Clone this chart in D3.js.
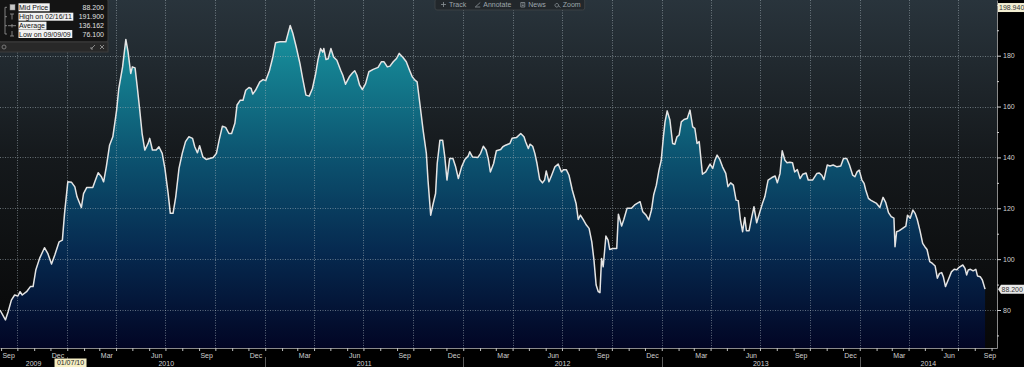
<!DOCTYPE html>
<html>
<head>
<meta charset="utf-8">
<script src="https://cdn.jsdelivr.net/npm/d3@7"></script>
<style>
body { margin: 0; background: #000; }
svg { display: block; font-family: "Liberation Sans", Arial, sans-serif; }
</style>
</head>
<body>
<svg id="chart" width="1024" height="367"></svg>
<script>
// mid price (dates and values)
var priceDates = [
    "2009-08-30","2009-09-09","2009-09-14","2009-09-20","2009-09-26","2009-10-02","2009-10-06","2009-10-10","2009-10-18","2009-10-25",
    "2009-10-30","2009-11-04","2009-11-11","2009-11-20","2009-11-26","2009-12-03","2009-12-09","2009-12-17","2009-12-23","2009-12-27",
    "2010-01-02","2010-01-09","2010-01-15","2010-01-19","2010-01-27","2010-01-31","2010-02-06","2010-02-17","2010-02-22","2010-02-27",
    "2010-03-05","2010-03-09","2010-03-14","2010-03-20","2010-03-26","2010-04-02","2010-04-06","2010-04-13","2010-04-19","2010-04-23",
    "2010-04-28","2010-05-01","2010-05-06","2010-05-10","2010-05-14","2010-05-19","2010-05-24","2010-05-30","2010-06-02","2010-06-07",
    "2010-06-14","2010-06-19","2010-06-25","2010-06-30","2010-07-06","2010-07-10","2010-07-15","2010-07-20","2010-07-26","2010-08-01",
    "2010-08-07","2010-08-13","2010-08-20","2010-08-24","2010-08-29","2010-09-02","2010-09-08","2010-09-14","2010-09-27","2010-10-03",
    "2010-10-08","2010-10-14","2010-10-20","2010-10-26","2010-10-31","2010-11-06","2010-11-10","2010-11-16","2010-11-21","2010-11-26",
    "2010-12-02","2010-12-06","2010-12-09","2010-12-14","2010-12-22","2010-12-28",
    "2011-01-02","2011-01-09","2011-01-15","2011-01-20","2011-01-28","2011-02-08","2011-02-12","2011-02-16","2011-02-21","2011-02-27",
    "2011-03-06","2011-03-11","2011-03-17","2011-03-23","2011-03-29","2011-04-04","2011-04-08","2011-04-13","2011-04-17","2011-04-19",
    "2011-04-23","2011-04-27","2011-05-02","2011-05-07","2011-05-13","2011-05-20","2011-05-24","2011-05-29","2011-06-05","2011-06-11",
    "2011-06-15","2011-06-19","2011-06-24","2011-06-29","2011-07-05","2011-07-11","2011-07-19","2011-07-28","2011-08-03","2011-08-08",
    "2011-08-14","2011-08-19","2011-08-25","2011-08-31","2011-09-05","2011-09-12","2011-09-18","2011-09-24","2011-09-29","2011-10-04",
    "2011-10-08","2011-10-13","2011-10-19","2011-10-25","2011-10-28","2011-11-02","2011-11-06","2011-11-11","2011-11-14","2011-11-19",
    "2011-11-24","2011-11-28","2011-12-02","2011-12-07","2011-12-13","2011-12-18","2011-12-23","2011-12-29",
    "2012-01-04","2012-01-10","2012-01-13","2012-01-18","2012-01-28","2012-02-02","2012-02-07","2012-02-12","2012-02-16","2012-02-20",
    "2012-02-26","2012-03-02","2012-03-10","2012-03-14","2012-03-19","2012-03-27","2012-03-31","2012-04-08","2012-04-16","2012-04-22",
    "2012-04-25","2012-04-30","2012-05-03","2012-05-08","2012-05-12","2012-05-16","2012-05-21","2012-05-26","2012-05-30","2012-06-02",
    "2012-06-07","2012-06-12","2012-06-18","2012-06-24","2012-06-30","2012-07-04","2012-07-09","2012-07-14","2012-07-20","2012-07-27",
    "2012-07-31","2012-08-04","2012-08-09","2012-08-15","2012-08-20","2012-08-25","2012-08-29","2012-09-02","2012-09-06","2012-09-09",
    "2012-09-12","2012-09-15","2012-09-20","2012-09-24","2012-09-27","2012-10-03","2012-10-10","2012-10-13","2012-10-16","2012-10-19",
    "2012-10-23","2012-10-29","2012-11-06","2012-11-12","2012-11-22","2012-11-27","2012-12-03","2012-12-08","2012-12-13","2012-12-17",
    "2012-12-22","2012-12-27","2012-12-31",
    "2013-01-04","2013-01-07","2013-01-11","2013-01-16","2013-01-21","2013-01-25","2013-01-29","2013-02-02","2013-02-06","2013-02-11",
    "2013-02-17","2013-02-22","2013-02-27","2013-03-03","2013-03-07","2013-03-11","2013-03-17","2013-03-23","2013-03-31","2013-04-05",
    "2013-04-09","2013-04-13","2013-04-18","2013-04-23","2013-04-29","2013-05-03","2013-05-08","2013-05-13","2013-05-18","2013-05-22",
    "2013-05-26","2013-05-30","2013-06-03","2013-06-06","2013-06-11","2013-06-16","2013-06-20","2013-06-25","2013-06-30","2013-07-06",
    "2013-07-10","2013-07-16","2013-07-23","2013-07-29","2013-08-02","2013-08-07","2013-08-11","2013-08-16","2013-08-20","2013-08-25",
    "2013-08-30","2013-09-03","2013-09-08","2013-09-13","2013-09-18","2013-09-24","2013-09-28","2013-10-06","2013-10-14","2013-10-18",
    "2013-10-23","2013-10-27","2013-11-02","2013-11-07","2013-11-13","2013-11-20","2013-11-27","2013-12-02","2013-12-08","2013-12-13",
    "2013-12-19","2013-12-23","2013-12-27","2013-12-31",
    "2014-01-05","2014-01-09","2014-01-12","2014-01-17","2014-01-21","2014-01-26","2014-02-01","2014-02-07","2014-02-13","2014-02-18",
    "2014-02-23","2014-02-28","2014-03-05","2014-03-07","2014-03-10","2014-03-15","2014-03-21","2014-03-27","2014-03-30","2014-04-04",
    "2014-04-09","2014-04-13","2014-04-17","2014-04-22","2014-04-27","2014-05-01","2014-05-05","2014-05-10","2014-05-15","2014-05-20",
    "2014-05-24","2014-05-28","2014-06-01","2014-06-04","2014-06-08","2014-06-13","2014-06-19","2014-06-24","2014-06-29","2014-07-03",
    "2014-07-10","2014-07-14","2014-07-17","2014-07-20","2014-07-24","2014-07-29","2014-08-03","2014-08-06","2014-08-11","2014-08-15",
    "2014-08-20"
];
var midPrices = [
    80.0,76.1,79.3,83.9,85.9,85.5,87.2,85.9,87.2,89.2,
    89.2,95.7,100.3,104.5,102.3,98.1,101.6,106.8,107.5,118.0,
    130.4,130.2,128.4,124.5,120.3,125.8,128.2,128.2,131.1,134.0,
    132.4,130.4,136.3,144.8,148.1,158.6,167.1,175.6,186.4,181.6,
    173.0,175.6,175.2,167.8,159.9,149.4,142.9,145.5,147.5,142.9,
    142.9,144.2,141.6,135.7,125.8,118.0,118.0,124.5,135.7,141.6,
    146.2,148.1,147.5,144.2,141.8,144.6,140.2,139.2,140.0,141.6,
    146.8,152.3,151.8,149.4,149.4,153.4,160.6,162.5,162.5,166.4,
    167.5,167.1,164.9,166.4,169.7,170.6,
    170.2,174.3,179.5,185.1,185.5,185.5,188.7,191.9,188.7,183.5,
    176.9,171.0,164.5,164.1,167.1,173.0,178.2,182.8,181.4,182.8,
    178.5,178.8,182.8,179.5,178.2,174.3,172.3,168.8,171.7,173.3,
    174.1,172.3,168.4,166.7,169.0,173.7,174.6,175.4,177.6,177.6,
    175.6,175.9,177.6,178.9,180.9,179.3,177.6,174.3,171.7,170.4,
    169.7,161.2,150.7,141.6,131.1,117.3,121.3,125.8,137.6,146.8,
    146.8,140.2,131.1,139.6,139.6,136.3,131.7,136.3,
    139.2,140.5,142.2,140.2,140.0,141.6,144.4,142.9,139.6,134.3,
    137.6,142.6,143.1,144.2,144.8,145.5,147.5,147.8,149.4,148.1,
    146.2,143.5,145.2,144.4,141.6,137.6,131.3,130.0,131.1,134.7,
    130.4,133.0,136.3,137.4,134.3,135.2,135.2,133.0,127.2,121.9,
    115.6,117.3,115.6,113.4,112.1,106.8,99.6,89.8,87.2,86.8,
    100.3,97.0,109.1,107.5,103.8,104.2,104.2,117.7,115.4,113.0,
    115.6,120.0,120.0,121.3,122.6,118.6,117.3,115.4,119.3,125.2,
    129.1,135.2,138.9,
    148.1,154.0,158.3,154.7,145.5,145.2,148.1,148.8,154.0,154.9,
    155.3,158.6,152.0,151.4,145.5,146.2,133.4,134.3,137.4,135.7,
    138.9,140.9,139.2,136.3,133.7,128.5,130.0,129.1,123.2,123.0,
    115.4,110.8,116.4,111.2,111.2,116.7,120.6,114.3,118.0,122.2,
    124.5,131.1,132.1,132.7,130.0,133.7,142.6,138.9,137.9,138.1,
    137.9,134.3,135.2,131.7,133.4,133.9,131.1,131.1,133.7,133.9,
    133.0,131.3,137.0,136.6,137.0,136.3,136.6,139.6,139.6,137.0,
    133.0,132.4,134.3,135.0,
    131.1,129.8,127.2,123.9,123.2,122.6,121.9,120.3,124.3,122.2,
    118.3,116.7,116.1,104.9,110.8,111.2,112.1,113.0,117.3,116.1,
    119.3,118.0,115.6,111.2,106.2,104.9,103.8,99.0,98.3,97.3,
    92.5,94.4,94.7,93.1,89.2,91.8,95.0,96.0,95.8,96.8,
    97.7,96.4,93.8,95.7,96.0,95.4,96.0,93.4,93.1,91.8,
    88.2
];

// axis setup
var xDomain = ["2009-08-30", "2014-09-11"];
var yDomain = [65.06, 201.9];
var yMajorTicks = [80, 100, 120, 140, 160, 180, 200];
var yMinorTicks = [70, 90, 110, 130, 150, 170, 190];
var yGridTicks = [80, 100, 120, 140, 160, 180];
var labelMonths = [8, 11, 2, 5]; // Sep, Dec, Mar, Jun
var cursorDate = "2010-01-07";
var topValue = 198.940;

// legend / toolbar text
var legendLabels = ["Mid Price", "High on 02/16/11", "Average", "Low on 09/09/09"];
var legendValues = ["88.200", "191.900", "136.162", "76.100"];
var toolbarItems = ["Track", "Annotate", "News", "Zoom"];

var parse = d3.timeParse("%Y-%m-%d");
var series = priceDates.map(function(d, i) { return { date: parse(d), price: midPrices[i] }; });

var plotR = 997, plotB = 348;
var svg = d3.select("#chart");

var x = d3.scaleTime()
    .domain([parse(xDomain[0]), parse(xDomain[1])])
    .range([0, plotR]);
var y = d3.scaleLinear()
    .domain(yDomain)
    .range([plotB, 0]);

// gradients
var defs = svg.append("defs");
var bg = defs.append("linearGradient").attr("id", "bgGrad")
    .attr("x1", 0).attr("y1", 0).attr("x2", 0).attr("y2", 1);
bg.append("stop").attr("offset", "0%").attr("stop-color", "#29343c");
bg.append("stop").attr("offset", "45%").attr("stop-color", "#15191c");
bg.append("stop").attr("offset", "100%").attr("stop-color", "#070707");

var ag = defs.append("linearGradient").attr("id", "areaGrad")
    .attr("gradientUnits", "userSpaceOnUse")
    .attr("x1", 0).attr("y1", 0).attr("x2", 0).attr("y2", plotB);
ag.append("stop").attr("offset", "0%").attr("stop-color", "#1ca3b0");
ag.append("stop").attr("offset", "15%").attr("stop-color", "#168896");
ag.append("stop").attr("offset", "45%").attr("stop-color", "#0c5370");
ag.append("stop").attr("offset", "72%").attr("stop-color", "#062a50");
ag.append("stop").attr("offset", "100%").attr("stop-color", "#020524");

svg.append("rect").attr("width", 1024).attr("height", 367).attr("fill", "#000");
svg.append("rect").attr("width", plotR).attr("height", plotB).attr("fill", "url(#bgGrad)");

// area + grid + line
var area = d3.area()
    .x(function(d) { return x(d.date); })
    .y0(plotB)
    .y1(function(d) { return y(d.price); });
svg.append("path").datum(series).attr("d", area).attr("fill", "url(#areaGrad)");

var grid = svg.append("g")
    .attr("stroke", "#a8b4bc").attr("stroke-opacity", 0.55)
    .attr("stroke-dasharray", "1,1.5");
grid.selectAll(".h").data(yGridTicks).enter().append("line")
    .attr("x1", 0).attr("x2", plotR)
    .attr("y1", function(d) { return Math.round(y(d)) + 0.5; })
    .attr("y2", function(d) { return Math.round(y(d)) + 0.5; });
grid.selectAll(".v").data(d3.timeMonth.every(3).range(x.domain()[0], x.domain()[1])).enter().append("line")
    .attr("x1", function(d) { return Math.round(x(d)) + 0.5; })
    .attr("x2", function(d) { return Math.round(x(d)) + 0.5; })
    .attr("y1", 0).attr("y2", plotB);

var line = d3.line()
    .x(function(d) { return x(d.date); })
    .y(function(d) { return y(d.price); });
svg.append("path").datum(series).attr("d", line)
    .attr("fill", "none").attr("stroke", "#e4e4e4").attr("stroke-width", 1.5)
    .attr("stroke-linejoin", "round");

// right axis (the 200 label sits under the range box, so only its tick is drawn)
var yAxis = svg.append("g").attr("transform", "translate(" + plotR + ",0)")
    .call(d3.axisRight(y).tickValues(yMajorTicks).tickSize(4).tickSizeOuter(0).tickPadding(2)
        .tickFormat(function(d) { return d >= topValue ? "" : d3.format("d")(d); }));
svg.append("g").attr("transform", "translate(" + plotR + ",0)")
    .call(d3.axisRight(y).tickValues(yMinorTicks).tickSize(2).tickSizeOuter(0).tickFormat(""))
    .call(function(g) { g.select(".domain").remove(); });
svg.selectAll(".tick line").attr("stroke", "#d0d0d0");
yAxis.select(".domain").attr("stroke", "#8a8a8a");
yAxis.selectAll("text").attr("fill", "#d0d0d0").style("font-size", "7px").style("font-family", "Liberation Sans, Arial, sans-serif");

// bottom axis
var xAxis = svg.append("g").attr("transform", "translate(0," + plotB + ")")
    .call(d3.axisBottom(x).ticks(d3.timeMonth.every(1)).tickSize(3).tickSizeOuter(0).tickFormat(""));
xAxis.select(".domain").attr("stroke", "#8a8a8a");
xAxis.selectAll(".tick line").attr("stroke", "#c0c0c0");

var months = d3.timeMonth.range(x.domain()[0], x.domain()[1])
    .filter(function(d) { return labelMonths.indexOf(d.getMonth()) >= 0; });
months.unshift(d3.timeMonth.floor(x.domain()[0]));
svg.append("g").selectAll("text").data(months.filter(function(d) { return d.getMonth() === 8 || d > x.domain()[0]; }))
    .enter().append("text")
    .attr("x", function(d) { return Math.max(6, Math.min(990, x(d3.timeDay.offset(d, 14)))); })
    .attr("y", 357.5)
    .attr("text-anchor", "middle")
    .attr("fill", "#d0d0d0").style("font-size", "7px")
    .text(d3.timeFormat("%b"));

var years = d3.timeYear.range(d3.timeYear.floor(x.domain()[0]), x.domain()[1]);
svg.append("g").selectAll("text").data(years).enter().append("text")
    .attr("x", function(d) {
        var a = Math.max(0, x(d)), b = Math.min(plotR, x(d3.timeYear.offset(d, 1)));
        return (a + b) / 2;
    })
    .attr("y", 366)
    .attr("text-anchor", "middle")
    .attr("fill", "#d0d0d0").style("font-size", "7px")
    .text(d3.timeFormat("%Y"));
svg.append("g").selectAll("line").data(years.slice(1)).enter().append("line")
    .attr("x1", function(d) { return Math.round(x(d)) + 0.5; })
    .attr("x2", function(d) { return Math.round(x(d)) + 0.5; })
    .attr("y1", 357).attr("y2", 367)
    .attr("stroke", "#5a5a5a");

// cursor date readout
var cd = parse(cursorDate);
var cdg = svg.append("g").attr("transform", "translate(" + x(cd) + ",0)");
cdg.append("rect").attr("x", -16).attr("y", 358.5).attr("width", 32).attr("height", 8.5).attr("fill", "#f6eec4");
cdg.append("text").attr("x", 0).attr("y", 365.3).attr("text-anchor", "middle")
    .attr("fill", "#222").style("font-size", "7px").text(d3.timeFormat("%m/%d/%y")(cd));

// top of range value
var tv = svg.append("g").attr("transform", "translate(998," + y(topValue) + ")");
tv.append("rect").attr("x", 0).attr("y", -4.5).attr("width", 26).attr("height", 9).attr("fill", "#f2eed2");
tv.append("text").attr("x", 1).attr("y", 2.5).attr("fill", "#333").style("font-size", "7px").text(d3.format(".3f")(topValue));

// last price marker
var last = series[series.length - 1];
var lp = svg.append("g").attr("transform", "translate(997," + y(last.price) + ")");
lp.append("path").attr("d", "M1,0 L4,-4.5 L27,-4.5 L27,4.5 L4,4.5 Z").attr("fill", "#e8e8e8");
lp.append("text").attr("x", 4.5).attr("y", 2.5).attr("fill", "#333").style("font-size", "7px").text(d3.format(".3f")(last.price));

// legend box
var lg = svg.append("g");
lg.append("rect").attr("x", -1).attr("y", -1).attr("width", 109).attr("height", 43).attr("rx", 2)
    .attr("fill", "#141414").attr("stroke", "#3c3c3c");
lg.append("rect").attr("x", -1).attr("y", 42).attr("width", 109).attr("height", 10)
    .attr("fill", "#282828").attr("stroke", "#3c3c3c");
lg.append("circle").attr("cx", 4).attr("cy", 47).attr("r", 2).attr("fill", "none").attr("stroke", "#777");
lg.append("path").attr("d", "M91,49 L95,45 M91,47 L91,49 L93,49 M100,45 L104,49 M104,45 L100,49")
    .attr("stroke", "#888").attr("fill", "none");

var rowY = [7.3, 16.7, 25.7, 34];
var rows = lg.selectAll(".row").data(legendLabels).enter().append("g")
    .attr("transform", function(d, i) { return "translate(0," + rowY[i] + ")"; });
var hl = rows.append("rect").attr("x", 18.5).attr("y", -4).attr("height", 8).attr("fill", "#f2f2f2");
var lt = rows.append("text").attr("x", 19).attr("y", 2.5).attr("fill", "#111").style("font-size", "7px")
    .text(function(d) { return d; });
lt.each(function(d, i) { d3.select(hl.nodes()[i]).attr("width", this.getComputedTextLength() + 2); });
rows.append("text").attr("x", 104).attr("y", 2.5).attr("text-anchor", "end")
    .attr("fill", "#e0e0e0").style("font-size", "7px")
    .text(function(d, i) { return legendValues[i]; });

// legend icons
lg.append("rect").attr("x", 10).attr("y", 4.5).attr("width", 5).attr("height", 5.5)
    .attr("fill", "#c8c8c8").attr("stroke", "#888").attr("stroke-width", 0.5);
lg.append("path").attr("fill", "none").attr("stroke", "#9a9a9a").attr("stroke-width", 0.8)
    .attr("d", "M7,7.3 L5,7.3 L5,34 L7,34 M5,16.7 L7,16.7 M5,25.7 L7,25.7" +
        " M10,14 L14,14 M12,14 L12,19.5" +
        " M8,25.7 L16,25.7 M12,24 L12,27.5" +
        " M12,31 L12,36 M10,36 L14,36");

// toolbar
var tb = svg.append("g");
var tbBox = tb.append("rect").attr("x", 435).attr("y", -1).attr("height", 11).attr("rx", 2)
    .attr("fill", "#22272b").attr("stroke", "#3a4044");
var cursor = 440;
toolbarItems.forEach(function(name, i) {
    var t = tb.append("text").attr("x", cursor + 9).attr("y", 7.3)
        .attr("fill", "#9ea6ab").style("font-size", "7px").text(name);
    var ix = cursor + 3.5;
    var icon = tb.append("path").attr("fill", "none").attr("stroke", "#8a9297").attr("stroke-width", 0.8);
    if (i === 0) icon.attr("d", "M" + (ix - 2.5) + ",4.5 L" + (ix + 2.5) + ",4.5 M" + ix + ",2 L" + ix + ",7");
    if (i === 1) icon.attr("d", "M" + (ix - 2.5) + ",7 L" + (ix + 2.5) + ",2.5 M" + (ix - 2.5) + ",7 L" + (ix + 2.5) + ",7");
    if (i === 2) icon.attr("d", "M" + (ix - 2) + ",2.5 h4 v4.5 h-4 Z M" + (ix - 1) + ",4 h2 M" + (ix - 1) + ",5.5 h2");
    if (i === 3) icon.attr("d", "M" + (ix - 0.5) + ",3.5 a1.8,1.8 0 1,0 0.01,0 M" + (ix + 1) + ",5.5 L" + (ix + 3) + ",7.5");
    cursor += 9 + t.node().getComputedTextLength() + 8;
});
tbBox.attr("width", cursor - 435 - 4);
</script>
</body>
</html>
